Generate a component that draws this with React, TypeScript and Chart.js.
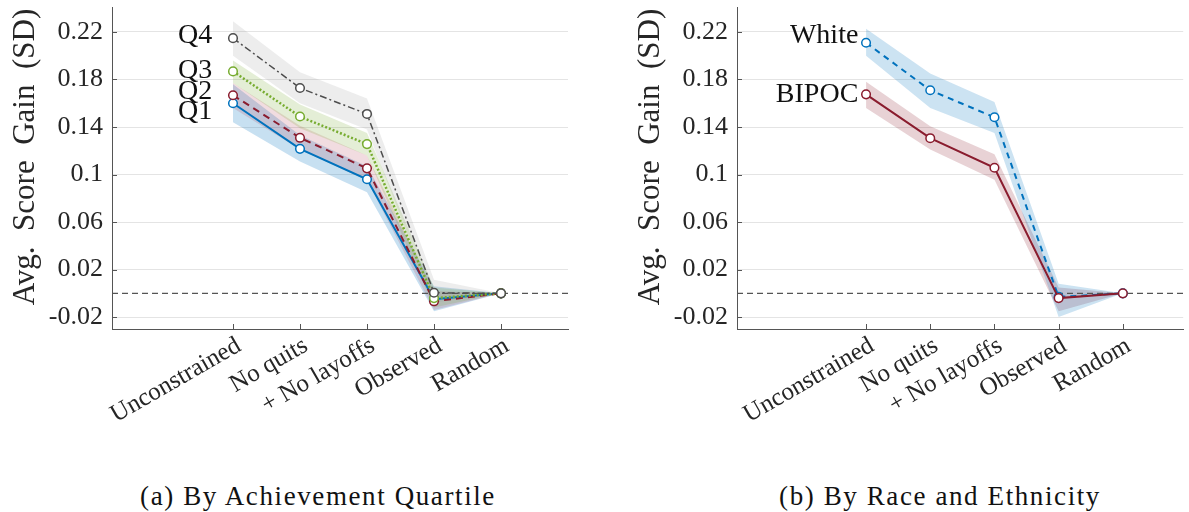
import React, { useEffect, useRef } from "react";
import { Chart, registerables } from "chart.js";

Chart.register(...registerables);

// ---------- data ----------
const CATEGORIES = ["Unconstrained", "No quits", "+ No layoffs", "Observed", "Random"];
const CATEGORY_X = [1, 2, 3, 4, 5];
const Y_TICKS = [-0.02, 0.02, 0.06, 0.1, 0.14, 0.18, 0.22];
const REFERENCE_VALUE = 0;

// Panel (a): by achievement quartile
const Q1 = [0.16, 0.1216, 0.096, -0.005, 0];
const Q1_LO = [0.144, 0.111, 0.085, -0.015, 0];
const Q1_HI = [0.176, 0.133, 0.107, 0.006, 0];
const Q2 = [0.1667, 0.1309, 0.1052, -0.0067, 0];
const Q2_LO = [0.156, 0.121, 0.095, -0.014, 0];
const Q2_HI = [0.177, 0.141, 0.116, 0.002, 0];
const Q3 = [0.1868, 0.1488, 0.1256, -0.004, 0];
const Q3_LO = [0.177, 0.139, 0.116, -0.012, 0];
const Q3_HI = [0.196, 0.159, 0.135, 0.005, 0];
const Q4 = [0.2148, 0.1728, 0.151, 0.0005, 0];
const Q4_LO = [0.2, 0.16, 0.138, -0.008, 0];
const Q4_HI = [0.229, 0.186, 0.164, 0.0115, 0];
const Q_NAMES = ["Q1", "Q2", "Q3", "Q4"];
const Q_LABEL_Y = [0.153, 0.17, 0.1877, 0.217];
const Q_LABEL_X = 0.69;

// Panel (b): by race and ethnicity
const WHITE = [0.2109, 0.1709, 0.1482, -0.003, 0];
const WHITE_LO = [0.2, 0.156, 0.135, -0.02, 0];
const WHITE_HI = [0.2226, 0.185, 0.161, 0.008, 0];
const BIPOC = [0.1675, 0.1306, 0.1057, -0.004, 0];
const BIPOC_LO = [0.156, 0.121, 0.0956, -0.015, 0];
const BIPOC_HI = [0.178, 0.1407, 0.117, 0.005, 0];
const R_NAMES = ["White", "BIPOC"];
const R_LABEL_Y = [0.217, 0.1675];
const R_LABEL_X = 0.88;

const Y_TITLE = "Avg.  Score  Gain  (SD)";

// ---------- styling ----------
const SERIF = "Liberation Serif";
const TEXT = "#262626";
const AXIS = "#555555";
const GRID = "#e4e4e4";
const BLUE = "#0072BD";
const RED = "#8A1C2E";
const GREEN = "#77AC30";
const GRAY = "#4d4d4d";

const pts = (vals: number[]) => vals.map((v, i) => ({ x: CATEGORY_X[i], y: v }));

function lineDs(vals: number[], color: string, dash: number[], width: number) {
  return {
    data: pts(vals),
    borderColor: color,
    borderWidth: width,
    borderDash: dash,
    pointRadius: 4.3,
    pointHoverRadius: 4.3,
    pointBackgroundColor: "#ffffff",
    pointBorderColor: color,
    pointBorderWidth: 1.5,
    fill: false,
    tension: 0,
  };
}

function bandDs(lo: number[], hi: number[], color: string, loIndex: number) {
  return [
    { data: pts(lo), borderWidth: 0, borderColor: "rgba(0,0,0,0)", pointRadius: 0, fill: false },
    {
      data: pts(hi),
      borderWidth: 0,
      borderColor: "rgba(0,0,0,0)",
      pointRadius: 0,
      backgroundColor: color,
      fill: { target: loIndex },
    },
  ];
}

const refLinePlugin = {
  id: "refLine",
  beforeDatasetsDraw(chart: any) {
    const { ctx, chartArea, scales } = chart;
    const y = scales.y.getPixelForValue(REFERENCE_VALUE);
    ctx.save();
    ctx.strokeStyle = "#555555";
    ctx.lineWidth = 1.2;
    ctx.setLineDash([6, 4]);
    ctx.beginPath();
    ctx.moveTo(chartArea.left, y);
    ctx.lineTo(chartArea.right, y);
    ctx.stroke();
    ctx.restore();
  },
};

const innerTicksPlugin = {
  id: "innerTicks",
  afterDraw(chart: any) {
    const { ctx, chartArea, scales } = chart;
    ctx.save();
    ctx.strokeStyle = AXIS;
    ctx.lineWidth = 1;
    scales.y.ticks.forEach((t: any) => {
      const y = Math.round(scales.y.getPixelForValue(t.value)) + 0.5;
      ctx.beginPath();
      ctx.moveTo(chartArea.left, y);
      ctx.lineTo(chartArea.left + 5, y);
      ctx.stroke();
    });
    scales.x.ticks.forEach((t: any) => {
      const x = Math.round(scales.x.getPixelForValue(t.value)) + 0.5;
      ctx.beginPath();
      ctx.moveTo(x, chartArea.bottom);
      ctx.lineTo(x, chartArea.bottom - 5);
      ctx.stroke();
    });
    ctx.restore();
  },
};

function yTitlePlugin(offsetFromAxis: number, shiftUp: number) {
  return {
    id: "yTitle",
    afterDraw(chart: any) {
      const { ctx, chartArea } = chart;
      ctx.save();
      ctx.translate(chartArea.left - offsetFromAxis, (chartArea.top + chartArea.bottom) / 2 - shiftUp);
      ctx.rotate(-Math.PI / 2);
      ctx.font = `31px "${SERIF}"`;
      ctx.fillStyle = TEXT;
      ctx.textAlign = "center";
      ctx.textBaseline = "middle";
      ctx.fillText(Y_TITLE, 0, 0);
      ctx.restore();
    },
  };
}

function seriesLabelPlugin(names: string[], ys: number[], xVal: number) {
  return {
    id: "seriesLabels",
    afterDatasetsDraw(chart: any) {
      const { ctx, scales } = chart;
      ctx.save();
      ctx.font = `28px "${SERIF}"`;
      ctx.fillStyle = "#111111";
      ctx.textAlign = "right";
      ctx.textBaseline = "middle";
      names.forEach((n, i) => {
        ctx.fillText(n, scales.x.getPixelForValue(xVal), scales.y.getPixelForValue(ys[i]));
      });
      ctx.restore();
    },
  };
}

function makeOptions(xMin: number, xMax: number, yAxisWidth: number, padRight: number) {
  return {
    responsive: false,
    animation: false,
    events: [],
    layout: { padding: { top: 7, right: padRight, left: 0, bottom: 0 } },
    plugins: {
      legend: { display: false },
      tooltip: { enabled: false },
      filler: { drawTime: "beforeDatasetsDraw" },
    },
    scales: {
      x: {
        type: "linear",
        min: xMin,
        max: xMax,
        afterBuildTicks: (s: any) => {
          s.ticks = CATEGORY_X.map((v) => ({ value: v }));
        },
        afterFit: (s: any) => {
          s.height = 470 - 329;
          s.paddingLeft = 0;
          s.paddingRight = 0;
        },
        grid: { display: false, drawTicks: false },
        border: { display: true, color: AXIS, width: 1 },
        ticks: {
          autoSkip: false,
          minRotation: 30,
          maxRotation: 30,
          padding: 2,
          labelOffset: 6,
          color: TEXT,
          font: { family: `"${SERIF}"`, size: 25 },
          callback: (v: any) => {
            const i = CATEGORY_X.indexOf(Number(v));
            return i >= 0 ? CATEGORIES[i] : "";
          },
        },
      },
      y: {
        type: "linear",
        min: -0.03,
        max: 0.241,
        afterBuildTicks: (s: any) => {
          s.ticks = Y_TICKS.map((v) => ({ value: v }));
        },
        afterFit: (s: any) => {
          s.width = yAxisWidth;
          s.paddingTop = 0;
          s.paddingBottom = 0;
        },
        grid: { color: GRID, lineWidth: 1, drawTicks: false },
        border: { display: true, color: AXIS, width: 1 },
        ticks: {
          padding: 9,
          color: TEXT,
          font: { family: `"${SERIF}"`, size: 26 },
          callback: (v: any) => String(Math.round(Number(v) * 100) / 100),
        },
      },
    },
  };
}

function PanelA() {
  const ref = useRef<HTMLCanvasElement>(null);
  useEffect(() => {
    const datasets: any[] = [
      lineDs(Q4, GRAY, [7, 3, 2, 3], 1.5),
      lineDs(Q3, GREEN, [2, 2], 2.5),
      lineDs(Q2, RED, [7, 5], 2),
      lineDs(Q1, BLUE, [], 2),
    ];
    const bands: [number[], number[], string][] = [
      [Q4_LO, Q4_HI, "rgba(150,150,150,0.17)"],
      [Q3_LO, Q3_HI, "rgba(119,172,48,0.2)"],
      [Q2_LO, Q2_HI, "rgba(162,20,47,0.15)"],
      [Q1_LO, Q1_HI, "rgba(0,114,189,0.22)"],
    ];
    bands.forEach(([lo, hi, c]) => {
      datasets.push(...bandDs(lo, hi, c, datasets.length));
    });
    const chart = new Chart(ref.current as HTMLCanvasElement, {
      type: "line",
      data: { datasets },
      options: makeOptions(-0.806, 6.0, 112, 26) as any,
      plugins: [
        refLinePlugin,
        innerTicksPlugin,
        yTitlePlugin(86, 11),
        seriesLabelPlugin(Q_NAMES, Q_LABEL_Y, Q_LABEL_X),
      ],
    });
    return () => chart.destroy();
  }, []);
  return <canvas ref={ref} width={594} height={470} style={{ display: "block" }} />;
}

function PanelB() {
  const ref = useRef<HTMLCanvasElement>(null);
  useEffect(() => {
    const datasets: any[] = [lineDs(BIPOC, RED, [], 2), lineDs(WHITE, BLUE, [6, 5], 2)];
    const bands: [number[], number[], string][] = [
      [WHITE_LO, WHITE_HI, "rgba(0,114,189,0.2)"],
      [BIPOC_LO, BIPOC_HI, "rgba(138,28,46,0.2)"],
    ];
    bands.forEach(([lo, hi, c]) => {
      datasets.push(...bandDs(lo, hi, c, datasets.length));
    });
    const chart = new Chart(ref.current as HTMLCanvasElement, {
      type: "line",
      data: { datasets },
      options: makeOptions(-1.01, 5.94, 143, 0) as any,
      plugins: [
        refLinePlugin,
        innerTicksPlugin,
        yTitlePlugin(86, 11),
        seriesLabelPlugin(R_NAMES, R_LABEL_Y, R_LABEL_X),
      ],
    });
    return () => chart.destroy();
  }, []);
  return <canvas ref={ref} width={595} height={470} style={{ display: "block" }} />;
}

const captionStyle: React.CSSProperties = {
  position: "absolute",
  top: 481,
  fontFamily: `"${SERIF}"`,
  fontSize: 27,
  letterSpacing: 1.6,
  color: "#111111",
  whiteSpace: "nowrap",
  transform: "translateX(-50%)",
  lineHeight: "30px",
};

export default function App() {
  return (
    <div style={{ position: "absolute", left: 0, top: 0, width: 1189, height: 512, background: "#ffffff", overflow: "hidden" }}>
      <div style={{ position: "absolute", left: 0, top: 0 }}>
        <PanelA />
      </div>
      <div style={{ position: "absolute", left: 594, top: 0 }}>
        <PanelB />
      </div>
      <div style={{ ...captionStyle, left: 318 }}>(a) By Achievement Quartile</div>
      <div style={{ ...captionStyle, left: 940 }}>(b) By Race and Ethnicity</div>
    </div>
  );
}
